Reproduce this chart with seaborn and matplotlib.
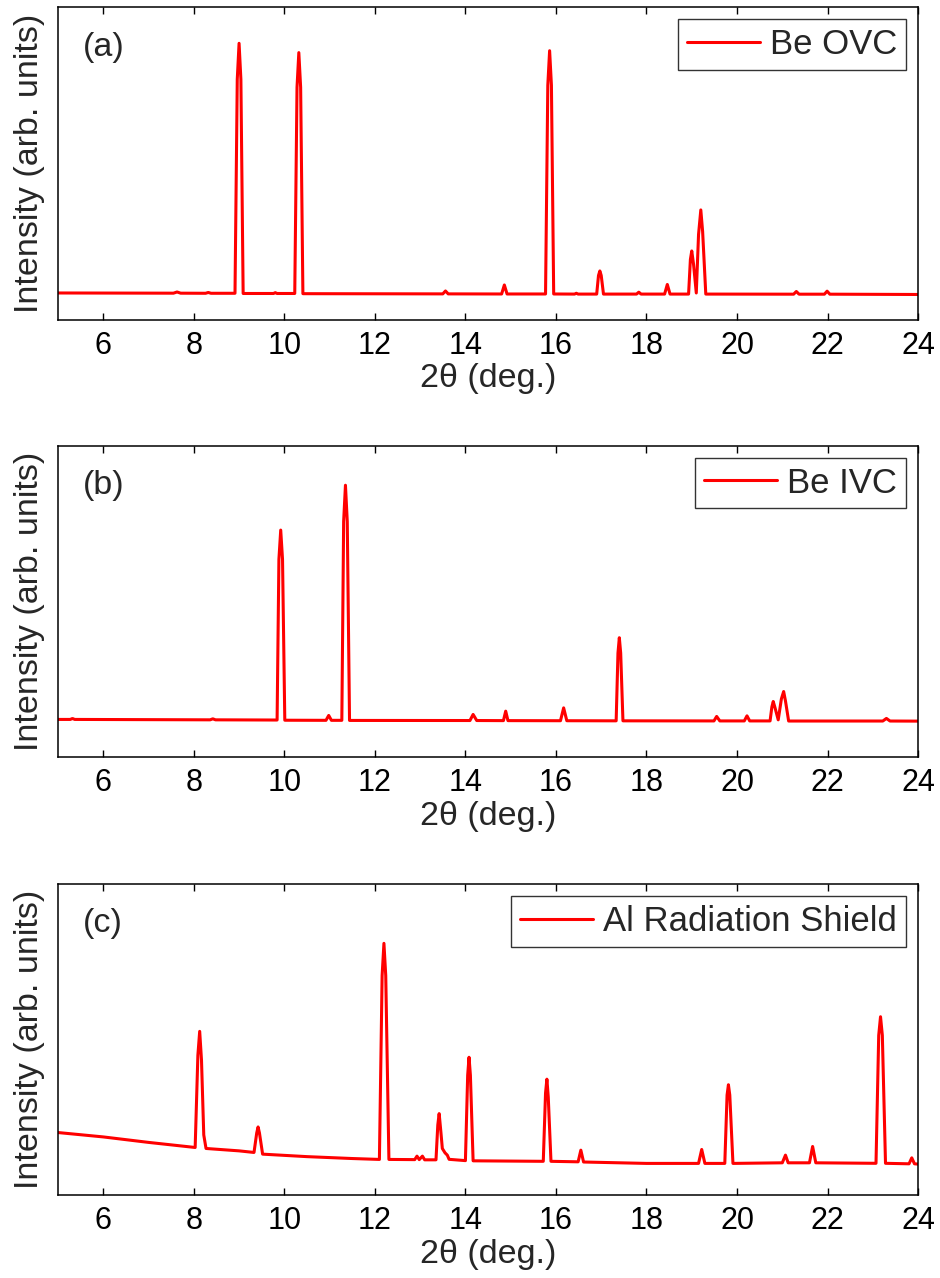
import matplotlib
matplotlib.use("Agg")
import matplotlib.pyplot as plt
import seaborn as sns

sns.set_style("ticks")
plt.rcParams['font.family'] = ['Liberation Sans', 'DejaVu Sans']

# (a) Be OVC (intensity in arb. units)
two_theta_a = [5.00, 7.55, 7.63, 7.71, 8.26, 8.32, 8.38,
               8.91, 8.96, 9.00, 9.04, 9.09, 9.76, 9.80, 9.84,
               10.23, 10.28, 10.32, 10.36, 10.41, 13.50, 13.56, 13.62,
               14.80, 14.86, 14.92, 15.77, 15.82, 15.86, 15.90, 15.95,
               16.41, 16.45, 16.49, 16.90, 16.94, 16.97, 17.00, 17.05,
               17.78, 17.83, 17.88, 18.40, 18.46, 18.52,
               18.93, 18.97, 19.00, 19.04, 19.10, 19.15, 19.20, 19.24, 19.31,
               21.25, 21.31, 21.37, 21.93, 21.99, 22.05, 24.00]
intensity_a = [26.5, 26.3, 27.5, 26.3, 26.2, 27.0, 26.2,
               26.2, 240, 276, 240, 26.0, 26.0, 26.8, 26.0,
               26.0, 232, 266.7, 232, 25.8, 25.6, 28.5, 25.6,
               25.5, 34.5, 25.5, 25.5, 234, 268.6, 234, 25.5,
               25.4, 26.2, 25.4, 25.4, 44, 48.5, 44, 25.4,
               25.4, 27.3, 25.4, 25.4, 35.0, 25.4,
               25.4, 60, 68.5, 55, 26.5, 85, 109.5, 88, 25.4,
               25.3, 28.0, 25.3, 25.3, 28.3, 25.3, 25.0]

# (b) Be IVC
two_theta_b = [5.00, 5.27, 5.32, 5.37, 8.36, 8.42, 8.48,
               9.84, 9.88, 9.92, 9.96, 10.01, 10.92, 10.98, 11.04,
               11.27, 11.31, 11.35, 11.39, 11.44, 14.10, 14.17, 14.25,
               14.84, 14.89, 14.94, 16.10, 16.17, 16.24,
               17.33, 17.37, 17.40, 17.43, 17.48, 19.49, 19.55, 19.62,
               20.16, 20.22, 20.28, 20.73, 20.77, 20.80, 20.84, 20.91,
               20.98, 21.03, 21.07, 21.14, 23.22, 23.30, 23.38, 24.00]
intensity_b = [37.4, 37.4, 38.3, 37.4, 37.0, 38.0, 37.0,
               36.8, 198, 227.4, 198, 36.6, 36.5, 41.4, 36.5,
               36.5, 236, 272.4, 236, 36.4, 36.3, 42.4, 36.3,
               36.2, 45.7, 36.2, 36.1, 49.0, 36.1,
               36.0, 104, 119.4, 104, 36.0, 35.9, 40.4, 35.9,
               35.9, 41.0, 35.9, 35.9, 50, 55.4, 49, 37.0,
               58, 65.4, 56, 35.8, 35.8, 38.4, 35.8, 35.7]

# (c) Al Radiation Shield
two_theta_c = [5.00, 6.00, 7.00, 8.03, 8.09, 8.13, 8.17, 8.22, 8.27,
               9.00, 9.33, 9.39, 9.42, 9.45, 9.52, 10.50, 11.50,
               12.10, 12.16, 12.20, 12.24, 12.31, 12.88, 12.93, 12.98,
               13.05, 13.10, 13.35, 13.39, 13.42, 13.46, 13.49, 13.55,
               13.60, 13.64, 14.00, 14.05, 14.08, 14.11, 14.17,
               15.72, 15.77, 15.80, 15.83, 15.89, 16.49, 16.55, 16.61,
               18.00, 19.15, 19.22, 19.29, 19.73, 19.78, 19.81, 19.84, 19.91,
               21.00, 21.07, 21.13, 21.60, 21.67, 21.74,
               23.07, 23.13, 23.17, 23.21, 23.28, 23.80, 23.86, 23.92, 24.00]
intensity_c = [62.4, 58.0, 52.5, 47.4, 140, 164, 135, 60, 46.4,
               44.0, 42.4, 62, 68, 62, 40.7, 38.2, 36.3,
               35.4, 220, 252.4, 220, 35.4, 35.2, 38.7, 35.2,
               38.7, 35.0, 35.0, 70, 81.4, 62, 46.4, 42,
               39.7, 35.5, 34.2, 120, 138, 120, 34.0,
               33.5, 102, 116, 98, 33.5, 33.0, 44.7, 32.8,
               31.4, 31.4, 45.4, 31.4, 31.4, 100, 110.4, 100, 31.4,
               32.0, 39.7, 32.0, 32.0, 48.4, 32.0,
               31.5, 160, 178.7, 160, 31.5, 31.0, 37.0, 31.0, 30.7]

panels = [
    ("(a)", "Be OVC", two_theta_a, intensity_a, 0.7500, 0.2443),
    ("(b)", "Be IVC", two_theta_b, intensity_b, 0.4079, 0.2433),
    ("(c)", "Al Radiation Shield", two_theta_c, intensity_c, 0.0652, 0.2431),
]

fig = plt.figure(figsize=(9.4, 12.78), dpi=100)

for tag, name, xs, ys, bottom, height in panels:
    ax = fig.add_axes([0.0617, bottom, 0.915, height])
    sns.lineplot(x=xs, y=ys, ax=ax, color="#ff0000", linewidth=2.2,
                 label=name, estimator=None)
    ax.set_xlim(5, 24)
    ax.set_ylim(0, 312)
    ax.set_xticks(range(6, 25, 2))
    ax.set_yticks([])
    ax.tick_params(axis="x", direction="in", top=True, length=5, width=1,
                   labelsize=22, pad=8, colors="black")
    for sp in ax.spines.values():
        sp.set_linewidth(1.1)
        sp.set_color("black")
    ax.set_xlabel("2θ (deg.)", fontsize=24.5, labelpad=2)
    ax.set_ylabel("Intensity (arb. units)", fontsize=24.5, labelpad=9)
    ax.text(0.029, 0.872, tag, transform=ax.transAxes, fontsize=24.5,
            va="center", ha="left")
    leg = ax.legend(loc="upper right", fontsize=25, frameon=True,
                    fancybox=False, edgecolor="black", handlelength=2.1,
                    handletextpad=0.3, borderpad=0.25, borderaxespad=0.35)
    leg.get_frame().set_linewidth(1.0)

fig.savefig("out.png", dpi=100)
